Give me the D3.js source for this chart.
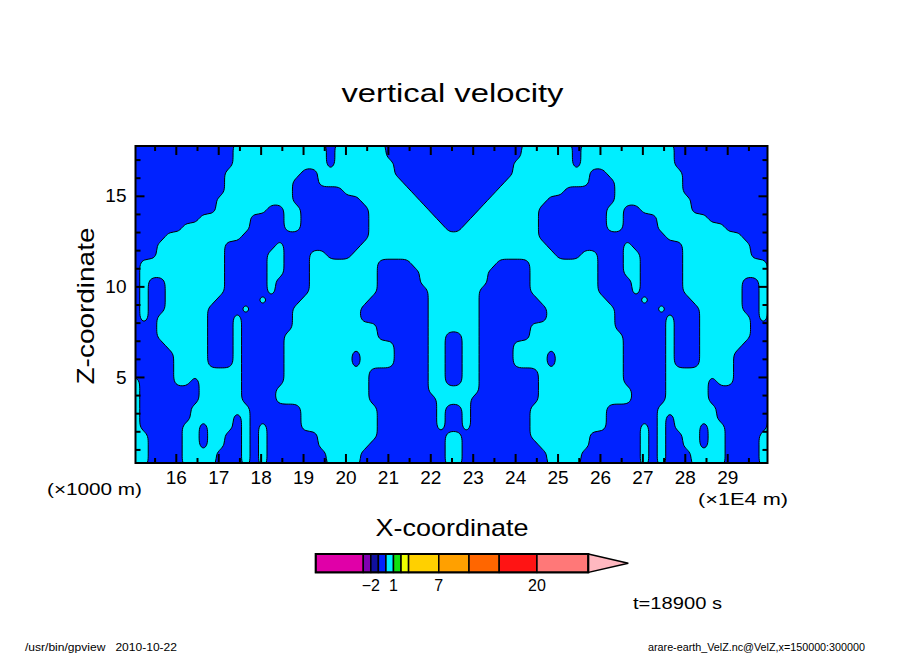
<!DOCTYPE html>
<html>
<head>
<meta charset="utf-8">
<script src="https://cdn.jsdelivr.net/npm/d3@7"></script>
<style>
  body { margin: 0; background: #fff; }
  svg { display: block; font-family: "Liberation Sans", Arial, sans-serif; }
</style>
</head>
<body>
<svg id="chart" width="904" height="654"></svg>
<script>
// sign of w, one string per z level (top row first)
// '#' = w < 0 (blue tone), '.' = w > 0 (cyan tone); '|' only marks the middle
const xStart = 15.05, xStep = 0.2;   // x of first column / spacing (x1E4 m)
const zTop = 17.75, zStep = 0.5;     // z of first row / spacing (x1000 m)
const rows = [
  "############...........#......########|########......#...........############",
  "############...........#......########|########......#...........############",
  "############...........#.......#######|#######.......#...........############",
  "###########.........##.........#######|#######.........##.........###########",
  "###########........###..........######|######..........###........###########",
  "###########........######........#####|#####........######........###########",
  "##########.........########.......####|####.......########.........##########",
  "##########......##..########.......###|###.......########..##......##########",
  "########......####..########........##|##........########..####......########",
  "######........####..########.........#|#.........########..####........######",
  "####.........###############..........|..........###############.........####",
  "###........######.#########...........|...........#########.######........###",
  "###........#####..###..###............|............###..###..#####........###",
  "#..........#####..###........####.....|.....####........###..#####..........#",
  "#..........#####..###........#####....|....#####........###..#####..........#",
  "#.##.......#####.####........#####....|....#####........####.#####.......##.#",
  "#.##.......#####.####........######...|...######........####.#####.......##.#",
  "#.##......#####.####........#######...|...#######........####.#####......##.#",
  "#.##.....####.#####........########...|...########........#####.####.....##.#",
  "#.#......###.######........########...|...########........######.###......#.#",
  "###......###.######..........######...|...######..........######.###......###",
  "###......###.#####...........######..#|#..######...........#####.###......###",
  "####.....###.#####.............####..#|#..####.............#####.###.....####",
  "#####....###.#####........#....####..#|#..####....#........#####.###....#####",
  "#####....###.#####........#....####..#|#..####....#........#####.###....#####",
  "#####........#####..........#######..#|#..#######..........#####........#####",
  ".####..#.....#####..........#######..#|#..#######..........#####.....#..####.",
  ".#######.....####...........#######...|...#######...........####.....#######.",
  ".#######.....####...........########..|..########...........####.....#######.",
  ".######.......######.........#######.#|#.#######.........######.......######.",
  ".######.....#.######.........#######.#|#.#######.........######.#.....######.",
  ".#####..#...#.#.####.........#######.#|#.#######.........####.#.#...#..#####.",
  "..####..#..##.#.######.......########.|.########.......######.#.##..#..####..",
  "..####..#..##.#.######......#########.|.#########......######.#.##..#..####..",
  "..####....###.#.#######....##########.|.##########....#######.#.###....####..",
  "..####....###.#.#######....##########.|.##########....#######.#.###....####.."
];

const levels = [-3, -2, -1, 0, 1, 2, 3, 7, 11, 15, 20];
const toneColors = ["#e000a8", "#8000b0", "#1010a0", "#0022ff", "#00eeff", "#10e010",
  "#eeff00", "#ffd000", "#ffa000", "#ff6600", "#ff1414", "#ff7878", "#ffb8c0"];
const legendLabels = [-2, 1, 7, 20];
const xTicks = [16, 17, 18, 19, 20, 21, 22, 23, 24, 25, 26, 27, 28, 29];
const zTicks = [5, 10, 15];

const svg = d3.select("#chart");
const x = d3.scaleLinear().domain([15.05, 29.95]).range([135.5, 767.5]);
const z = d3.scaleLinear().domain([0.25, 17.75]).range([463, 146]);
const [x0, x1] = x.range(), [y1, y0] = z.range();

svg.append("clipPath").attr("id", "plotclip")
  .append("rect").attr("x", x0).attr("y", y0).attr("width", x1 - x0).attr("height", y1 - y0);

// tone + contour lines
const grid = rows.map(r => r.replace("|", ""));
const nx = grid[0].length;
const values = grid.flatMap(r => Array.from(r, c => (c === "#" ? -0.5 : 0.5)));
const bands = d3.contours().size([nx, grid.length]).thresholds(levels)(values);

// grid coords -> pixels, rings drawn as smooth closed curves
const px = cx => x(xStart + (cx - 0.5) * xStep);
const py = cy => z(zTop - (cy - 0.5) * zStep);
const ringLine = d3.line().x(p => px(p[0])).y(p => py(p[1])).curve(d3.curveBasisClosed);
const bandPath = d => d.coordinates
  .flatMap(poly => poly.map(ring => ringLine(ring.slice(0, -1)))).join("");

svg.append("g").attr("clip-path", "url(#plotclip)")
  .selectAll("path").data(bands.filter(b => b.coordinates.length)).join("path")
  .attr("d", bandPath)
  .attr("fill-rule", "evenodd")
  .attr("fill", d => toneColors[levels.indexOf(d.value) + 1])
  .attr("stroke", "#000")
  .attr("stroke-width", 1);

if (grid.some(r => r.length !== nx)) {
  svg.append("text").attr("x", 10).attr("y", 20).attr("fill", "red").text("row length mismatch");
}

// axes: ticks point inward on all four sides
function addAxis(gen, tx, ty) {
  const g = svg.append("g").attr("transform", `translate(${tx},${ty})`).call(gen);
  g.select(".domain").remove();
  g.selectAll("line").attr("stroke", "#000").attr("stroke-width", 2);
  g.selectAll("text").attr("fill", "#000").style("font-size", "19px")
    .style("font-family", "'Liberation Sans', Arial, sans-serif");
  return g;
}
const xMinor = d3.range(15.5, 30, 1);
const zMinor = d3.range(1, 18).filter(v => !zTicks.includes(v));
const fmt = d3.format("d");

addAxis(d3.axisBottom(x).tickValues(xTicks).tickSize(-9).tickPadding(8).tickFormat(fmt), 0, y1);
addAxis(d3.axisBottom(x).tickValues(xMinor).tickSize(-5).tickFormat(""), 0, y1);
addAxis(d3.axisTop(x).tickValues(xTicks).tickSize(-9).tickFormat(""), 0, y0);
addAxis(d3.axisTop(x).tickValues(xMinor).tickSize(-5).tickFormat(""), 0, y0);
addAxis(d3.axisLeft(z).tickValues(zTicks).tickSize(-9).tickPadding(9).tickFormat(fmt), x0, 0);
addAxis(d3.axisLeft(z).tickValues(zMinor).tickSize(-5).tickFormat(""), x0, 0);
addAxis(d3.axisRight(z).tickValues(zTicks).tickSize(-9).tickFormat(""), x1, 0);
addAxis(d3.axisRight(z).tickValues(zMinor).tickSize(-5).tickFormat(""), x1, 0);

svg.append("rect").attr("x", x0).attr("y", y0).attr("width", x1 - x0).attr("height", y1 - y0)
  .attr("fill", "none").attr("stroke", "#000").attr("stroke-width", 2);

// texts
function label(txt, lx, ly, size, opts = {}) {
  const t = svg.append("text").attr("x", lx).attr("y", ly)
    .attr("text-anchor", opts.anchor || "start")
    .style("font-size", size + "px").style("white-space", "pre")
    .attr("fill", "#000").text(txt);
  if (opts.len) t.attr("textLength", opts.len).attr("lengthAdjust", "spacingAndGlyphs");
  if (opts.rotate) t.attr("transform", `rotate(${opts.rotate},${lx},${ly})`);
  return t;
}
label("vertical velocity", 452.5, 101.5, 26, { anchor: "middle", len: 222 });
label("X-coordinate", 452, 536, 24, { anchor: "middle", len: 153 });
label("Z-coordinate", 94, 306, 24, { anchor: "middle", len: 157, rotate: -90 });
label("(\u00d71000 m)", 47, 495, 17, { len: 95 });
label("(\u00d71E4 m)", 698, 505, 17, { len: 90 });
label("t=18900 s", 633, 609, 16, { len: 89 });
label("/usr/bin/gpview   2010-10-22", 25, 651, 11, { len: 152 });
label("arare-earth_VelZ.nc@VelZ,x=150000:300000", 865, 651, 11, { anchor: "end", len: 217 });

// colour bar
const bar = d3.scaleLinear().domain([-9.3, 26.8]).range([315.7, 588.3]);
const edges = [bar.domain()[0], ...levels, bar.domain()[1]];
const barTop = 554, barH = 18.4;
const lg = svg.append("g");
lg.selectAll("rect").data(edges.slice(0, -1)).join("rect")
  .attr("x", d => bar(d))
  .attr("y", barTop)
  .attr("width", (d, i) => bar(edges[i + 1]) - bar(d))
  .attr("height", barH)
  .attr("fill", (d, i) => toneColors[i])
  .attr("stroke", "#000").attr("stroke-width", 1.5);
const bx1 = bar.range()[1];
lg.append("path")
  .attr("d", `M${bx1},${barTop}L${bx1 + 40},${barTop + barH / 2}L${bx1},${barTop + barH}Z`)
  .attr("fill", toneColors[toneColors.length - 1])
  .attr("stroke", "#000").attr("stroke-width", 1.5);
lg.append("rect").attr("x", bar.range()[0]).attr("y", barTop)
  .attr("width", bx1 - bar.range()[0]).attr("height", barH)
  .attr("fill", "none").attr("stroke", "#000").attr("stroke-width", 2);
lg.selectAll("text.lab").data(legendLabels).join("text")
  .attr("class", "lab")
  .attr("x", d => bar(d)).attr("y", 590.5)
  .attr("text-anchor", "middle")
  .style("font-size", "16px")
  .text(d => d3.format("")(d));
</script>
</body>
</html>
